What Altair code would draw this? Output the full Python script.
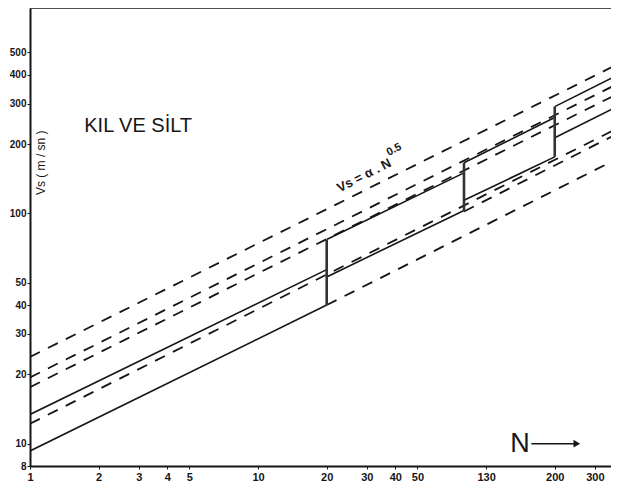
import altair as alt
import pandas as pd

# ---------------- data ----------------
x_ticks = [1, 2, 3, 4, 5, 10, 20, 30, 40, 50, 100, 200, 300]
y_ticks = [8, 10, 20, 30, 40, 50, 100, 200, 300, 400, 500]

# solid band segments (N ranges) with lower / upper boundary values
seg_n_start = [1, 20, 80, 200]
seg_n_end = [20, 80, 200, 360]
lower_v_start = [9.3, 53, 114, 213]
lower_v_end = [40, 103, 176, 285]
upper_v_start = [13.4, 77, 166, 291]
upper_v_end = [57, 150, 261, 390]

# vertical jumps between segments
jump_n = [20, 80, 200]
jump_lo = [40, 103, 176]
jump_hi = [77, 166, 291]

# dashed reference lines Vs = a * N^0.5
dash_n_start = [1, 1, 1, 1, 80, 20]
dash_n_end = [360, 360, 360, 360, 360, 360]
dash_v_start = [23.8, 19.4, 17.6, 12.2, 102, 40]
dash_v_end = [434, 357, 323, 229, 217, 169]

# ---------------- tables ----------------
solid_rows = []
for i in range(len(seg_n_start)):
    solid_rows.append({"id": f"lo{i}", "o": 0, "N": seg_n_start[i], "V": lower_v_start[i]})
    solid_rows.append({"id": f"lo{i}", "o": 1, "N": seg_n_end[i], "V": lower_v_end[i]})
    solid_rows.append({"id": f"up{i}", "o": 0, "N": seg_n_start[i], "V": upper_v_start[i]})
    solid_rows.append({"id": f"up{i}", "o": 1, "N": seg_n_end[i], "V": upper_v_end[i]})
solid_df = pd.DataFrame(solid_rows)

dash_rows = []
for i in range(len(dash_n_start)):
    dash_rows.append({"id": f"d{i}", "o": 0, "N": dash_n_start[i], "V": dash_v_start[i]})
    dash_rows.append({"id": f"d{i}", "o": 1, "N": dash_n_end[i], "V": dash_v_end[i]})
dash_df = pd.DataFrame(dash_rows)

jump_df = pd.DataFrame({"N": jump_n, "lo": jump_lo, "hi": jump_hi})

W, H = 581, 458
xs = alt.Scale(type="log", domain=[1, 353], nice=False)
ys = alt.Scale(type="log", domain=[8, 780], nice=False)

LF = "Liberation Sans"
INK = "#161616"

x_axis = alt.Axis(values=x_ticks, grid=False, title=None, tickSize=3, tickColor=INK,
                  domainColor=INK, domainWidth=2, labelFont=LF, labelFontWeight="bold",
                  labelFontSize=11, labelColor=INK, labelPadding=2,
                  labelExpr="datum.value == 100 ? '130' : datum.label", labelFlush=False)
y_axis = alt.Axis(values=y_ticks, grid=False, title=None, tickSize=3, tickColor=INK,
                  domainColor=INK, domainWidth=2, labelFont=LF, labelFontWeight="bold",
                  labelFontSize=10, labelColor=INK, labelPadding=1, format="d")

solid = alt.Chart(solid_df).mark_line(color=INK, strokeWidth=1.6, clip=True).encode(
    x=alt.X("N:Q", scale=xs, axis=x_axis),
    y=alt.Y("V:Q", scale=ys, axis=y_axis),
    detail="id:N", order="o:Q")

dashed = alt.Chart(dash_df).mark_line(color=INK, strokeWidth=1.8, strokeDash=[11, 9], clip=True).encode(
    x=alt.X("N:Q", scale=xs),
    y=alt.Y("V:Q", scale=ys),
    detail="id:N", order="o:Q")

jumps = alt.Chart(jump_df).mark_rule(color="#333333", strokeWidth=2.6).encode(
    x=alt.X("N:Q", scale=xs), y=alt.Y("lo:Q", scale=ys), y2="hi:Q")

# top frame line
top_frame = alt.Chart(pd.DataFrame({"k": [0]})).mark_rule(color=INK, strokeWidth=1.5).encode(
    x=alt.value(0), x2=alt.value(W), y=alt.value(0))

# ---------------- text annotations ----------------
title_df = pd.DataFrame({"N": [2.98], "V": [239], "t": ["KIL VE SİLT"]})
title = alt.Chart(title_df).mark_text(font=LF, fontSize=20, color=INK).encode(
    x=alt.X("N:Q", scale=xs), y=alt.Y("V:Q", scale=ys), text="t:N")

ytitle_df = pd.DataFrame({"N": [1.12], "V": [166], "t": ["Vs ( m / sn )"]})
ytitle = alt.Chart(ytitle_df).mark_text(font=LF, fontSize=12, angle=270, color=INK).encode(
    x=alt.X("N:Q", scale=xs), y=alt.Y("V:Q", scale=ys), text="t:N")

formula_df = pd.DataFrame({"N": [29.2], "V": [146], "t": ["Vs = α . N"]})
formula = alt.Chart(formula_df).mark_text(font=LF, fontSize=13, angle=333, color=INK,
                                          fontWeight="bold").encode(
    x=alt.X("N:Q", scale=xs), y=alt.Y("V:Q", scale=ys), text="t:N")

exp_df = pd.DataFrame({"N": [39.5], "V": [189], "t": ["0.5"]})
expo = alt.Chart(exp_df).mark_text(font=LF, fontSize=11, angle=333, color=INK,
                                   fontWeight="bold").encode(
    x=alt.X("N:Q", scale=xs), y=alt.Y("V:Q", scale=ys), text="t:N")

n_df = pd.DataFrame({"N": [141], "V": [10], "t": ["N"]})
nlab = alt.Chart(n_df).mark_text(font=LF, fontSize=27, color=INK).encode(
    x=alt.X("N:Q", scale=xs), y=alt.Y("V:Q", scale=ys), text="t:N")

arrow_df = pd.DataFrame({"N": [158], "N2": [250], "V": [10]})
arrow = alt.Chart(arrow_df).mark_rule(color=INK, strokeWidth=1.6).encode(
    x=alt.X("N:Q", scale=xs), x2="N2:Q", y=alt.Y("V:Q", scale=ys))
head_df = pd.DataFrame({"N": [250], "V": [10]})
head = alt.Chart(head_df).mark_point(shape="triangle-right", filled=True, size=60,
                                     color=INK, opacity=1).encode(
    x=alt.X("N:Q", scale=xs), y=alt.Y("V:Q", scale=ys))

chart = alt.layer(solid, dashed, jumps, top_frame, title, ytitle, formula, expo, nlab, arrow, head).properties(
    width=W, height=H,
    autosize=alt.AutoSizeParams(type="none"),
    padding={"left": 22, "top": 0, "right": 0, "bottom": 18},
    background="white",
).configure_view(stroke=None)

chart.save("out.html", embed_options={"renderer": "svg", "actions": False})
